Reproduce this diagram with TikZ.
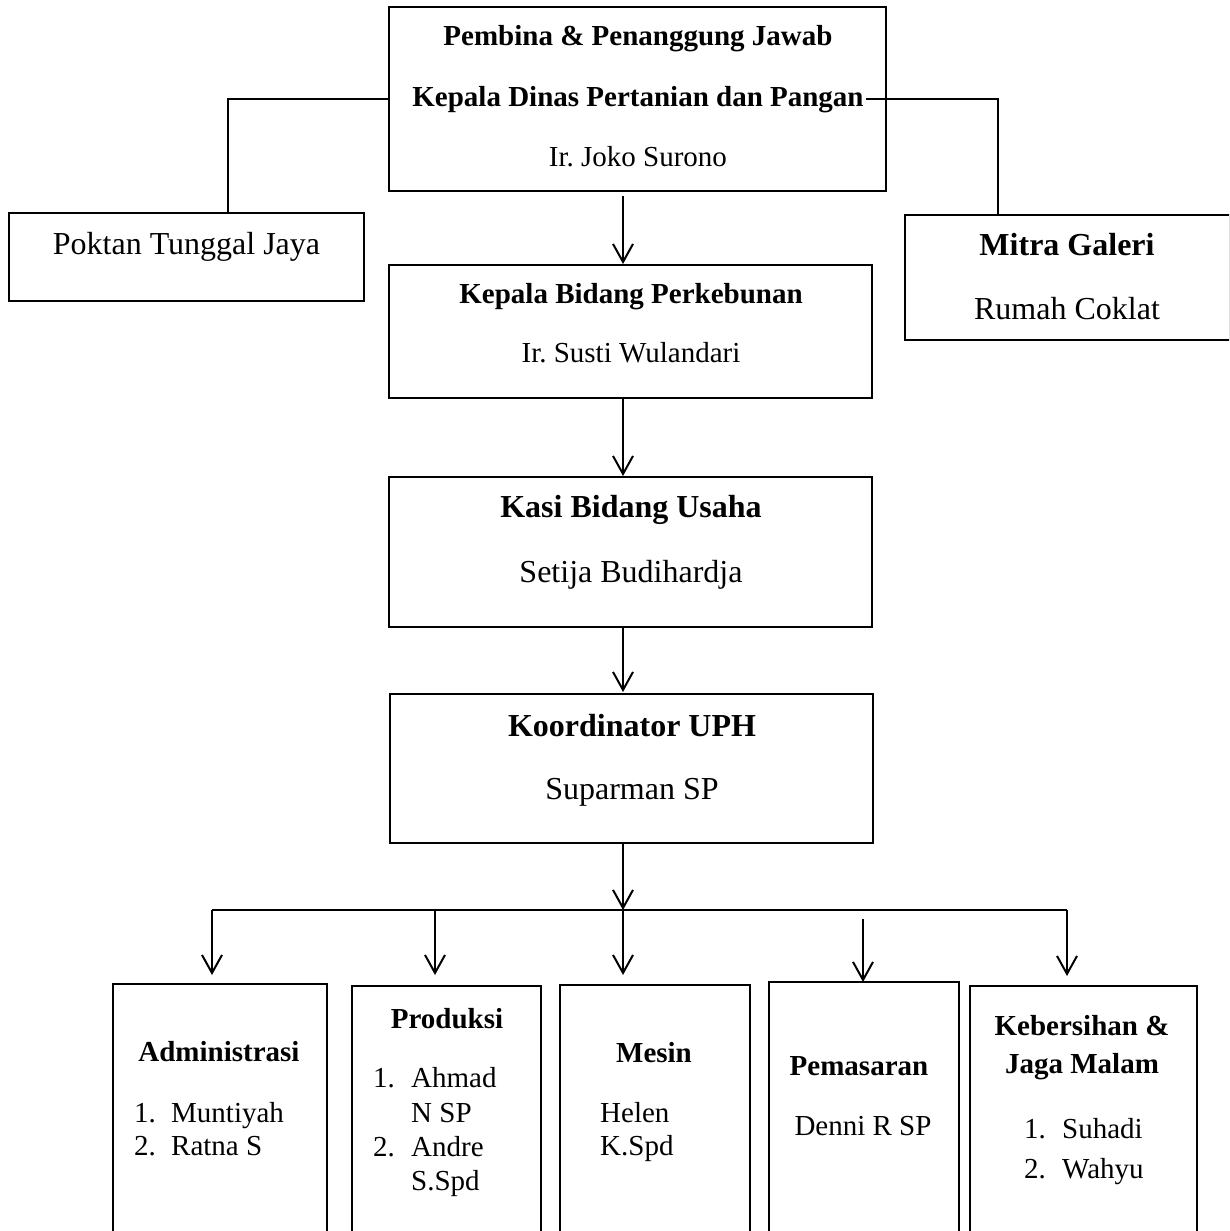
\documentclass[tikz,border=0pt]{standalone}
\usepackage{fontspec}
\setmainfont{Liberation Serif}
\usetikzlibrary{arrows.meta}
\frenchspacing
\begin{document}
\begin{tikzpicture}[x=1pt,y=-1pt,
  box/.style={draw, line width=2pt, inner sep=0pt},
  conn/.style={line width=2pt},
  arr/.style={line width=2pt, -{Straight Barb[length=18pt,width=20pt,line width=2pt]}},
  bigb/.style={font=\fontsize{32}{38}\selectfont\bfseries, inner sep=0pt, anchor=base},
  bigr/.style={font=\fontsize{32}{38}\selectfont, inner sep=0pt, anchor=base},
  smb/.style={font=\fontsize{29}{35}\selectfont\bfseries, inner sep=0pt, anchor=base},
  smr/.style={font=\fontsize{29}{35}\selectfont, inner sep=0pt, anchor=base},
  sml/.style={font=\fontsize{29}{35}\selectfont, inner sep=0pt, anchor=base west}]
\path[use as bounding box, clip] (0,0) rectangle (1229,1231);

% boxes
\node[box, minimum width=497pt, minimum height=184pt] (top) at (637.5,99) {};
\node[box, minimum width=355pt, minimum height=88pt] (poktan) at (186.5,257) {};
\node[box, minimum width=325pt, minimum height=125pt] (mitra) at (1067.5,277.5) {};
\node[box, minimum width=483pt, minimum height=133pt] (kbp) at (630.5,331.5) {};
\node[box, minimum width=483pt, minimum height=150pt] (kasi) at (630.5,552) {};
\node[box, minimum width=483pt, minimum height=149pt] (koor) at (631.5,768.5) {};
\node[box, minimum width=214pt, minimum height=261pt] (adm) at (220,1114.5) {};
\node[box, minimum width=189pt, minimum height=259pt] (prod) at (446.5,1115.5) {};
\node[box, minimum width=190pt, minimum height=260pt] (mes) at (655,1115) {};
\node[box, minimum width=190pt, minimum height=263pt] (pem) at (864,1113.5) {};
\node[box, minimum width=227pt, minimum height=259pt] (keb) at (1083.5,1115.5) {};

% texts
\node[smb] (t1) at (638,46) {Pembina \& Penanggung Jawab};
\node[smb] (t2) at (638,106) {Kepala Dinas Pertanian dan Pangan};
\node[smr] (t3) at (638,166) {Ir. Joko Surono};
\node[bigr] (tp) at (186.5,254) {Poktan Tunggal Jaya};
\node[bigb] (tm1) at (1067,255) {Mitra Galeri};
\node[bigr] (tm2) at (1067,319) {Rumah Coklat};
\node[smb] (tk1) at (631,303) {Kepala Bidang Perkebunan};
\node[smr] (tk2) at (631,362) {Ir. Susti Wulandari};
\node[bigb] (ts1) at (631,517) {Kasi Bidang Usaha};
\node[bigr] (ts2) at (631,582) {Setija Budihardja};
\node[bigb] (tu1) at (632,736) {Koordinator UPH};
\node[bigr] (tu2) at (632,799) {Suparman SP};

\node[smb] (ta) at (219,1061) {Administrasi};
\node[sml] (ta1) at (134,1122) {1.};
\node[sml] (ta1n) at (171,1122) {Muntiyah};
\node[sml] (ta2) at (134,1155) {2.};
\node[sml] (ta2n) at (171,1155) {Ratna S};

\node[smb] (tpr) at (447,1028) {Produksi};
\node[sml] (tpr1) at (373,1087) {1.};
\node[sml] (tpr1n) at (411,1087) {Ahmad};
\node[sml] (tpr1m) at (411,1122) {N SP};
\node[sml] (tpr2) at (373,1156) {2.};
\node[sml] (tpr2n) at (411,1156) {Andre};
\node[sml] (tpr2m) at (411,1190) {S.Spd};

\node[smb] (tme) at (654,1062) {Mesin};
\node[sml] (tme1) at (600,1122) {Helen};
\node[sml] (tme2) at (600,1155) {K.Spd};

\node[smb] (tpe) at (859,1075) {Pemasaran};
\node[smr] (tpe1) at (863,1135) {Denni R SP};

\node[smb] (tkb1) at (1082,1035) {Kebersihan \&};
\node[smb] (tkb2) at (1082,1073) {Jaga Malam};
\node[sml] (tkb3) at (1024,1138) {1.};
\node[sml] (tkb3n) at (1062,1138) {Suhadi};
\node[sml] (tkb4) at (1024,1178) {2.};
\node[sml] (tkb4n) at (1062,1178) {Wahyu};

% connector coordinates
\coordinate (pk) at (228,213);
\coordinate (rs) at (866,99);
\coordinate (mt) at (998,215);
\coordinate (a1s) at (623,196);
\coordinate (a1e) at (623,264);
\coordinate (a2s) at (623,398);
\coordinate (a2e) at (623,476);
\coordinate (a3s) at (623,627);
\coordinate (a3e) at (623,692);
\coordinate (a4s) at (623,843);
\coordinate (jm) at (623,910);
\coordinate (h1) at (212,910);
\coordinate (h2) at (435,910);
\coordinate (h5) at (1067,910);
\coordinate (d1) at (212,975);
\coordinate (d2) at (435,975);
\coordinate (d3) at (623,975);
\coordinate (p4s) at (863,919);
\coordinate (d4) at (863,982);
\coordinate (d5) at (1067,976);

\draw[conn] (top.west) -| (pk);
\draw[conn] (rs) -| (mt);
\draw[arr] (a1s) -- (a1e);
\draw[arr] (a2s) -- (a2e);
\draw[arr] (a3s) -- (a3e);
\draw[arr] (a4s) -- (jm);
\draw[conn] (h1) -- (h5);
\draw[arr] (h1) -- (d1);
\draw[arr] (h2) -- (d2);
\draw[arr] (jm) -- (d3);
\draw[arr] (p4s) -- (d4);
\draw[arr] (h5) -- (d5);
\end{tikzpicture}
\end{document}
